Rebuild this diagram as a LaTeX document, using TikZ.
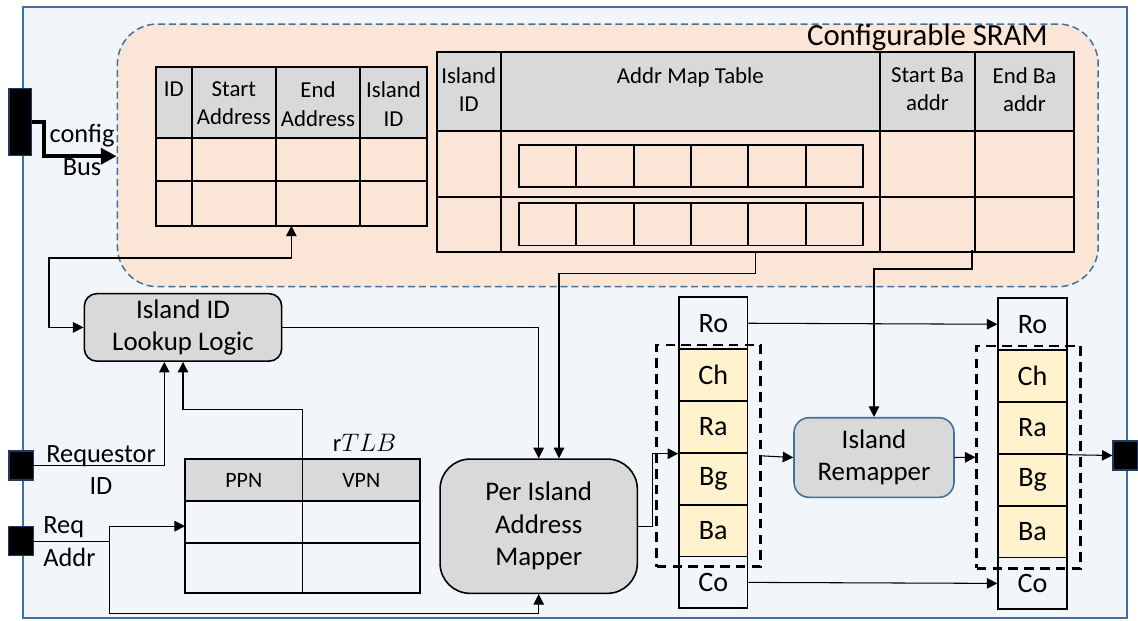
\documentclass[tikz,border=0pt]{standalone}
\usepackage{fontspec}
\setmainfont{Carlito}
\usetikzlibrary{arrows.meta}

\definecolor{chipbg}{RGB}{242,246,251}
\definecolor{chipline}{RGB}{65,113,156}
\definecolor{sramfill}{RGB}{251,229,214}
\definecolor{hdrgray}{RGB}{217,217,217}
\definecolor{fieldyel}{RGB}{255,242,204}
\definecolor{portline}{RGB}{31,56,100}

\begin{document}
\begin{tikzpicture}[x=0.02cm, y=-0.02cm,
	arr/.style={-{Triangle[length=6pt,width=6pt]}, line width=0.6pt},
	arrboth/.style={{Triangle[length=6pt,width=6pt]}-{Triangle[length=6pt,width=6pt]}, line width=0.6pt},
	blk/.style={draw, fill=hdrgray, line width=0.9pt, align=center, font=\fontsize{15.3}{18.5}\selectfont},
	tbl/.style={draw, line width=1.1pt, inner sep=0pt, outer sep=0pt},
	hdr/.style={anchor=north, align=center, inner sep=0pt, font=\fontsize{13}{16}\selectfont},
	fld/.style={draw, line width=1pt, minimum width=1.37cm, minimum height=1.0366cm, inner sep=0pt, font=\fontsize{16}{18}\selectfont},
	grp/.style={draw, dash pattern=on 5.5pt off 3.5pt, line width=1.4pt, inner sep=0pt},
	port/.style={draw=portline, fill=black, line width=0.6pt, inner sep=0pt},
	lbl/.style={align=center, inner sep=0pt, font=\fontsize{15}{18.5}\selectfont}]
	\useasboundingbox (0,0) rectangle (1138,620);
	\draw[chipline, fill=chipbg, line width=1.1pt] (23,7) rectangle (1127,618);

	\node[draw=chipline, fill=sramfill, dash pattern=on 4pt off 2.2pt, line width=0.85pt, rounded corners=0.8cm, minimum width=19.62cm, minimum height=5.254cm, inner sep=0pt] (sram) at (607.8,155.35) {};
	\node[anchor=base east, font=\fontsize{17.5}{20}\selectfont] (title) at (1054,45) {Configurable SRAM};

	% island range table
	\node[tbl, minimum width=5.426cm, minimum height=3.18cm] (ltab) at (291.35,146.2) {};
	\filldraw[fill=hdrgray, line width=1.1pt] (155.7,66.7) rectangle (427,137.7);
	\foreach \cx in {191.7,276,360}
		\draw[line width=1.1pt] (\cx,66.7) -- (\cx,225.7);
	\draw[line width=1.1pt] (155.7,181) -- (427,181);
	\node[hdr] at (173.7,81.7) {ID};
	\node[hdr] at (233.85,81.7) {Start\\Address};
	\node[hdr] at (318,81.7) {End\\Address};
	\node[hdr] at (393.5,81.7) {Island\\ID};

	% address map table
	\node[tbl, minimum width=12.746cm, minimum height=4cm] (rtab) at (755.35,152.3) {};
	\filldraw[fill=hdrgray, line width=1.1pt] (436.7,52.3) rectangle (1074,130.7);
	\foreach \cx in {500.7,880,975}
		\draw[line width=1.1pt] (\cx,52.3) -- (\cx,252.3);
	\draw[line width=1.1pt] (436.7,197.3) -- (1074,197.3);
	\node[hdr] at (468.7,67.3) {Island\\ID};
	\node[hdr] at (690.35,67.3) {Addr Map Table};
	\node[hdr] at (927.5,67.3) {Start Ba\\addr};
	\node[hdr] at (1024.5,67.3) {End Ba\\addr};
	\foreach \ry in {145,203.3}
		\foreach \k in {0,...,5}
			\draw[line width=1.1pt] (518.7+57.43*\k,\ry) rectangle ++(57.43,42.2);

	% rTLB
	\node[tbl, minimum width=4.7cm, minimum height=2.686cm] (rtlb) at (302.5,526.15) {};
	\filldraw[fill=hdrgray, line width=1.1pt] (185,459) rectangle (420,500.7);
	\draw[line width=1.1pt] (302.5,459) -- (302.5,593.3);
	\draw[line width=1.1pt] (185,543.3) -- (420,543.3);
	\node[font=\fontsize{12.5}{14}\selectfont] at (243.75,480) {PPN};
	\node[font=\fontsize{12.5}{14}\selectfont] at (361.25,480) {VPN};
	\node[anchor=base, font=\fontsize{14}{16}\selectfont] (tlbname) at (364.5,451.7) {$\mathrm{r}TLB$};

	\node[blk, rounded corners=0.25cm, minimum width=3.948cm, minimum height=1.334cm] (lookup) at (183,327.4) {Island ID\\Lookup Logic};
	\node[blk, rounded corners=0.6cm, minimum width=3.946cm, minimum height=2.686cm] (mapper) at (538.7,526.2) {Per Island\\Address\\Mapper};
	\node[blk, draw=chipline, rounded corners=0.3cm, minimum width=3.2cm, minimum height=1.592cm] (remap) at (874,457.5) {Island\\Remapper};

	\foreach \f/\c [count=\i] in {Ro/chipbg,Ch/fieldyel,Ra/fieldyel,Bg/fieldyel,Ba/fieldyel,Co/chipbg} {
		\node[fld, fill=\c] (l\f) at (713.3,271.4+51.83*\i) {\f};
		\node[fld, fill=\c] (r\f) at (1032.5,272.4+51.83*\i) {\f};
	}
	\node[grp, minimum width=2.08cm, minimum height=4.434cm] (lgrp) at (708.7,455.85) {};
	\node[grp, minimum width=2.08cm, minimum height=4.446cm] (rgrp) at (1028.7,457.15) {};

	% ports
	\node[port, minimum width=0.454cm, minimum height=1.348cm] (cfg) at (20.35,122) {};
	\node[port, minimum width=0.486cm, minimum height=0.58cm] (reqid) at (21.15,465.5) {};
	\node[port, minimum width=0.486cm, minimum height=0.58cm] (raddr) at (21,541.2) {};
	\node[port, minimum width=0.5cm, minimum height=0.58cm] (out) at (1125.5,455.5) {};
	\node[lbl] (cfglbl) at (82,150) {config\\Bus};
	\node[lbl] (reqidlbl) at (101,470) {Requestor\\ID};
	\node[lbl, align=left, anchor=west] (raddrlbl) at (43,541.5) {Req\\Addr};

	\draw[line width=2.5pt, -{Triangle[length=9pt,width=9pt]}] (cfg.east) -- ++(11.6,0) |- (sram.west |- cfg.south);
	\draw[arrboth] (ltab.south) |- (49,258) |- (lookup.west);
	\draw[arr] (lookup.east) -| (mapper.north);
	\draw[arr] (reqid.east) -| ([xshift=-0.374cm]lookup.south);
	\draw[arr] (rtlb.north) -- ++(0,-49.3) -| (lookup.south);
	\coordinate (split) at (109.3,541.2);
	\draw[line width=0.6pt] (raddr.east) -- (split);
	\draw[arr] (split) |- (rtlb.west);
	\draw[arr] (split) -- (109.3,613.3) -| (mapper.south);
	\draw[arr] (rtab.south) -- ++(0,21) -| ([xshift=0.406cm]mapper.north);
	\coordinate (baout) at (972,250);
	\draw[arr] (baout) -- (972,269) -| (remap.north);
	\draw[arr] (mapper.east) -- ++(14,0) |- (lRa.south west);
	\draw[arr] (lRo.east) -- (rRo.west);
	\draw[arr] (lCo.east) -- (rCo.west);
	\draw[arr] (lgrp.east) -- (remap.west);
	\draw[arr] (remap.east) -- (rgrp.west);
	\draw[arr] (rRa.south east) -- (out.west);
\end{tikzpicture}
\end{document}
